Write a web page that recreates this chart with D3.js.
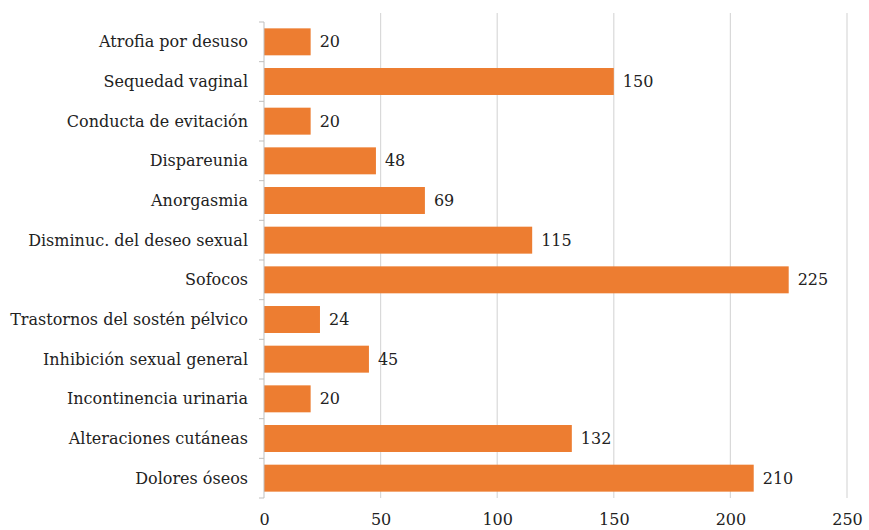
<!DOCTYPE html>
<html>
<head>
<meta charset="utf-8">
<script src="https://cdn.jsdelivr.net/npm/d3@7"></script>
<style>
  body { margin: 0; background: #fff; }
</style>
</head>
<body>
<svg id="chart"></svg>
<script>
// categories top to bottom, as in the picture
const categories = [
  'Atrofia por desuso',
  'Sequedad vaginal',
  'Conducta de evitación',
  'Dispareunia',
  'Anorgasmia',
  'Disminuc. del deseo sexual',
  'Sofocos',
  'Trastornos del sostén pélvico',
  'Inhibición sexual general',
  'Incontinencia urinaria',
  'Alteraciones cutáneas',
  'Dolores óseos'
];
const values = [20, 150, 20, 48, 69, 115, 225, 24, 45, 20, 132, 210];
const xTicks = [0, 50, 100, 150, 200, 250];

const width = 869;
const height = 530;
const marginTop = 22;
const marginRight = 22;
const marginBottom = 32;
const marginLeft = 264;
const serif = 'DejaVu Serif';
const fontSize = 16;

const svg = d3.select('#chart')
  .attr('width', width)
  .attr('height', height)
  .attr('viewBox', [0, 0, width, height]);

const x = d3.scaleLinear()
  .domain([0, 250])
  .range([marginLeft, width - marginRight]);

const y = d3.scaleBand()
  .domain(categories)
  .range([marginTop, height - marginBottom])
  .paddingInner(0.32)
  .paddingOuter(0.16);

// vertical gridlines
svg.append('g')
  .selectAll('line')
  .data(xTicks.slice(1))
  .join('line')
  .attr('x1', d => x(d))
  .attr('x2', d => x(d))
  .attr('y1', 13)
  .attr('y2', height - marginBottom)
  .attr('stroke', '#d9d9d9')
  .attr('stroke-width', 1.2);

// bars
svg.append('g')
  .attr('fill', '#ed7d31')
  .selectAll('rect')
  .data(values)
  .join('rect')
  .attr('x', x(0))
  .attr('y', (d, i) => y(categories[i]))
  .attr('width', d => x(d) - x(0))
  .attr('height', y.bandwidth());

// value labels
svg.append('g')
  .selectAll('text')
  .data(values)
  .join('text')
  .style('font-family', serif)
  .attr('font-size', fontSize)
  .attr('fill', '#222')
  .attr('x', d => x(d) + 9)
  .attr('y', (d, i) => y(categories[i]) + y.bandwidth() / 2)
  .attr('dy', '0.35em')
  .text(d => d);

// y axis with ticks between categories
const step = y.step();
const yAxis = svg.append('g');
yAxis.append('line')
  .attr('x1', x(0)).attr('x2', x(0))
  .attr('y1', marginTop).attr('y2', height - marginBottom)
  .attr('stroke', '#bfbfbf');
yAxis.selectAll('.tk')
  .data(d3.range(categories.length + 1))
  .join('line')
  .attr('class', 'tk')
  .attr('x1', x(0) - 5).attr('x2', x(0))
  .attr('y1', i => marginTop + i * step)
  .attr('y2', i => marginTop + i * step)
  .attr('stroke', '#bfbfbf');
yAxis.selectAll('text')
  .data(categories)
  .join('text')
  .style('font-family', serif)
  .attr('font-size', fontSize)
  .attr('fill', '#222')
  .attr('x', 248)
  .attr('y', d => y(d) + y.bandwidth() / 2)
  .attr('dy', '0.35em')
  .attr('text-anchor', 'end')
  .text(d => d);

// x axis labels
svg.append('g')
  .attr('transform', `translate(0,${height - marginBottom})`)
  .call(d3.axisBottom(x).tickValues(xTicks).tickSize(0).tickPadding(16))
  .call(g => g.select('.domain').remove())
  .call(g => g.attr('font-size', fontSize))
  .call(g => g.selectAll('text').style('font-family', serif).attr('fill', '#222'));
</script>
</body>
</html>
